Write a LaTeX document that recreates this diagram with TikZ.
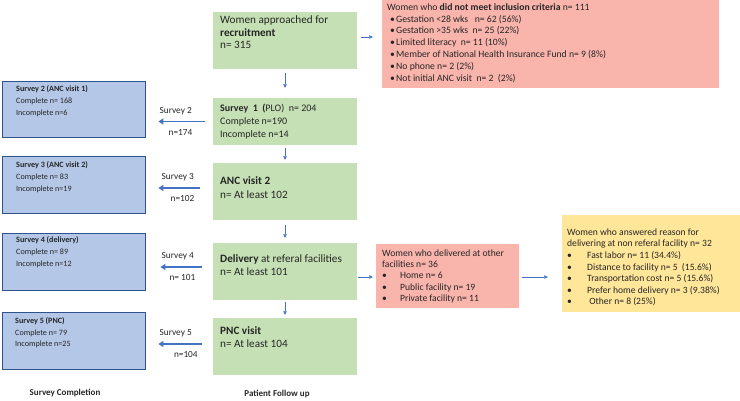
\documentclass[tikz,border=0pt]{standalone}
\usepackage{fontspec}
\setmainfont{Carlito}
\usepackage{tikz}
\usepackage{xcolor}
\usetikzlibrary{arrows.meta}
\definecolor{colorOne}{HTML}{262626}
\definecolor{colorGreen}{HTML}{C5E0B4}
\definecolor{colorBlue}{HTML}{B4C7E7}
\definecolor{colorBlueDark}{HTML}{2F528F}
\definecolor{colorRed}{HTML}{F9B4AC}
\definecolor{colorYellow}{HTML}{FFE699}
\definecolor{colorArrow}{HTML}{4472C4}
\def\colorOne{colorOne}
\def\colorGreen{colorGreen}
\def\colorBlue{colorBlue}
\def\colorBlueDark{colorBlueDark}
\def\colorRed{colorRed}
\def\colorYellow{colorYellow}
\def\colorArrow{colorArrow}
% puce : largeur de retrait, texte
\newcommand{\puce}[2]{\makebox[#1][l]{\textbullet}#2}

\begin{document}
\begin{tikzpicture}[x=1pt, y=-1pt,
    gbox/.style={fill=\colorGreen, draw=none, minimum width=144pt, minimum height=57pt, inner sep=0pt},
    bbox/.style={fill=\colorBlue, draw=\colorBlueDark, line width=0.8pt, minimum width=143pt, minimum height=57pt, inner sep=0pt},
    txt/.style={anchor=north west, align=left, inner sep=0pt, text=\colorOne},
    vflow/.style={draw=\colorArrow, line width=0.6pt, -{Triangle[length=3.5pt,width=3.5pt]}},
    sflow/.style={draw=\colorArrow, line width=1.8pt, -{Triangle[length=5pt,width=6pt]}},
    lab/.style={font=\fontsize{9.3}{10}\selectfont, text=\colorOne, inner sep=0pt}
]
    \useasboundingbox (0,0) rectangle (740,400);

    % Suivi des patientes (colonne verte)
    \node[gbox] (recruit) at (285,40.5) {};
    \node[txt, font=\fontsize{11.2}{12.5}\selectfont] (recruitT) at (220,15.8)
        {Women approached for\\\textbf{recruitment}\\n= 315};
    \node[gbox, minimum height=47pt] (fu1) at (285,121.5) {};
    \node[txt, font=\fontsize{10}{13}\selectfont] (fu1T) at (220,104)
        {\textbf{Survey\ \ 1\ \ (}PLO)\ \ n= 204\\Complete n=190\\Incomplete n=14};
    \node[gbox] (anc2) at (285,191.5) {};
    \node[txt, font=\fontsize{11.2}{14}\selectfont] (anc2T) at (220,176.8)
        {\textbf{ANC visit 2}\\n= At least 102};
    \node[gbox] (deliv) at (285,271.5) {};
    \node[txt, font=\fontsize{11.2}{12.5}\selectfont] (delivT) at (220,254.8)
        {\textbf{Delivery} at referal facilities\\n= At least 101};
    \node[gbox] (pnc) at (285,346.5) {};
    \node[txt, font=\fontsize{11.2}{13}\selectfont] (pncT) at (220,326.8)
        {\textbf{PNC visit}\\n= At least 104};

    % Enquetes (colonne bleue)
    \node[bbox, minimum height=56pt] (sv2) at (73.5,109) {};
    \node[txt, font=\fontsize{8.1}{12}\selectfont] (sv2T) at (16,85.4)
        {\textbf{Survey 2 (ANC visit 1)}\\Complete n= 168\\Incomplete n=6};
    \node[bbox] (sv3) at (73.5,184.5) {};
    \node[txt, font=\fontsize{8.1}{12}\selectfont] (sv3T) at (16,161.4)
        {\textbf{Survey 3 (ANC visit 2)}\\Complete n= 83\\Incomplete n=19};
    \node[bbox] (sv4) at (73.5,261.5) {};
    \node[txt, font=\fontsize{8.1}{12}\selectfont] (sv4T) at (16,235.9)
        {\textbf{Survey 4 (delivery)}\\Complete n= 89\\Incomplete n=12};
    \node[bbox] (sv5) at (73.5,340.5) {};
    \node[txt, font=\fontsize{8.1}{11.5}\selectfont] (sv5T) at (15,317.4)
        {\textbf{Survey 5 (PNC)}\\Complete n= 79\\Incomplete n=25};

    % Exclusions et accouchements ailleurs
    \node[fill=\colorRed, minimum width=337pt, minimum height=88pt, inner sep=0pt] (excl) at (550.5,44) {};
    \node[txt, font=\fontsize{9.7}{11.8}\selectfont] (exclT) at (387,3.3)
        {Women who \textbf{did not meet inclusion criteria} n= 111\\
        \hspace*{3pt}\puce{6pt}{Gestation <28 wks\ \ \ n= 62 (56\%)}\\
        \hspace*{3pt}\puce{6pt}{Gestation >35 wks\ \ n= 25 (22\%)}\\
        \hspace*{3pt}\puce{6pt}{Limited literacy\ \ n= 11 (10\%)}\\
        \hspace*{3pt}\puce{6pt}{Member of National Health Insurance Fund n= 9 (8\%)}\\
        \hspace*{3pt}\puce{6pt}{No phone n= 2 (2\%)}\\
        \hspace*{3pt}\puce{6pt}{Not initial ANC visit\ \ n= 2\ \ (2\%)}};
    \node[fill=\colorRed, minimum width=143pt, minimum height=64pt, inner sep=0pt] (other) at (447.5,276) {};
    \node[txt, font=\fontsize{9.6}{11.3}\selectfont] (otherT) at (382,249.4)
        {Women who delivered at other\\facilities n= 36\\
        \puce{18pt}{Home n= 6}\\
        \puce{18pt}{Public facility n= 19}\\
        \puce{18pt}{Private facility n= 11}};
    \node[fill=\colorYellow, minimum width=178pt, minimum height=97pt, inner sep=0pt] (reason) at (651,263.5) {};
    \node[txt, font=\fontsize{9.6}{11.6}\selectfont] (reasonT) at (567,228.4)
        {Women who answered reason for\\delivering at non referal facility n= 32\\
        \puce{20pt}{Fast labor n= 11 (34.4\%)}\\
        \puce{20pt}{Distance to facility n= 5\ \ (15.6\%)}\\
        \puce{20pt}{Transportation cost n= 5 (15.6\%)}\\
        \puce{20pt}{Prefer home delivery n= 3 (9.38\%)}\\
        \puce{20pt}{\ Other n= 8 (25\%)}};

    % Fleches verticales
    \draw[vflow, shorten <=4pt, shorten >=10pt] (recruit) -- (fu1);
    \draw[vflow, shorten <=3pt, shorten >=3pt] (fu1) -- (anc2);
    \draw[vflow, shorten <=5pt, shorten >=5pt] (anc2) -- (deliv);
    \draw[vflow, shorten <=2pt, shorten >=3pt] (deliv) -- (pnc);

    % Fleches vers la droite
    \draw[vflow, shorten <=4pt, shorten >=9pt]
        ([yshift=3.5pt]recruit.east) -- ([yshift=3.5pt]recruit.east -| excl.west);
    \draw[vflow, shorten <=1pt, shorten >=3pt]
        ([yshift=-5.5pt]deliv.east) -- ([yshift=-5.5pt]deliv.east -| other.west);
    \draw[vflow, shorten <=3pt, shorten >=14pt]
        ([yshift=-1pt]other.east) -- ([yshift=-1pt]other.east -| reason.west);

    % Fleches vers les enquetes
    \draw[sflow, shorten <=8pt, shorten >=13pt]
        (fu1.west) -- (fu1.west -| sv2.east)
        node[lab, pos=0.55, above=6pt] (l2a) {Survey 2}
        node[lab, pos=0.48, below=7pt] (l2b) {n=174};
    \draw[sflow, shorten <=13pt, shorten >=13pt]
        ([yshift=3.5pt]anc2.west) -- ([yshift=3.5pt]anc2.west -| sv3.east)
        node[lab, pos=0.52, above=6pt] (l3a) {Survey 3}
        node[lab, pos=0.45, below=7pt] (l3b) {n=102};
    \draw[sflow, shorten <=11pt, shorten >=15pt]
        ([yshift=4.5pt]deliv.west) -- ([yshift=4.5pt]deliv.west -| sv4.east)
        node[lab, pos=0.52, above=6pt] (l4a) {Survey 4}
        node[lab, pos=0.45, below=7pt] (l4b) {n= 101};
    \draw[sflow, shorten <=11pt, shorten >=13pt]
        ([yshift=2.5pt]pnc.west) -- ([yshift=2.5pt]pnc.west -| sv5.east)
        node[lab, pos=0.55, above=6pt] (l5a) {Survey 5}
        node[lab, pos=0.4, below=7pt] (l5b) {n=104};

    % Titres des colonnes
    \node[lab, font=\fontsize{9}{10}\selectfont\bfseries] (titleL) at (65,393.5) {Survey Completion};
    \node[lab, font=\fontsize{9}{10}\selectfont\bfseries] (titleR) at (277,394.5) {Patient Follow up};
\end{tikzpicture}
\end{document}
